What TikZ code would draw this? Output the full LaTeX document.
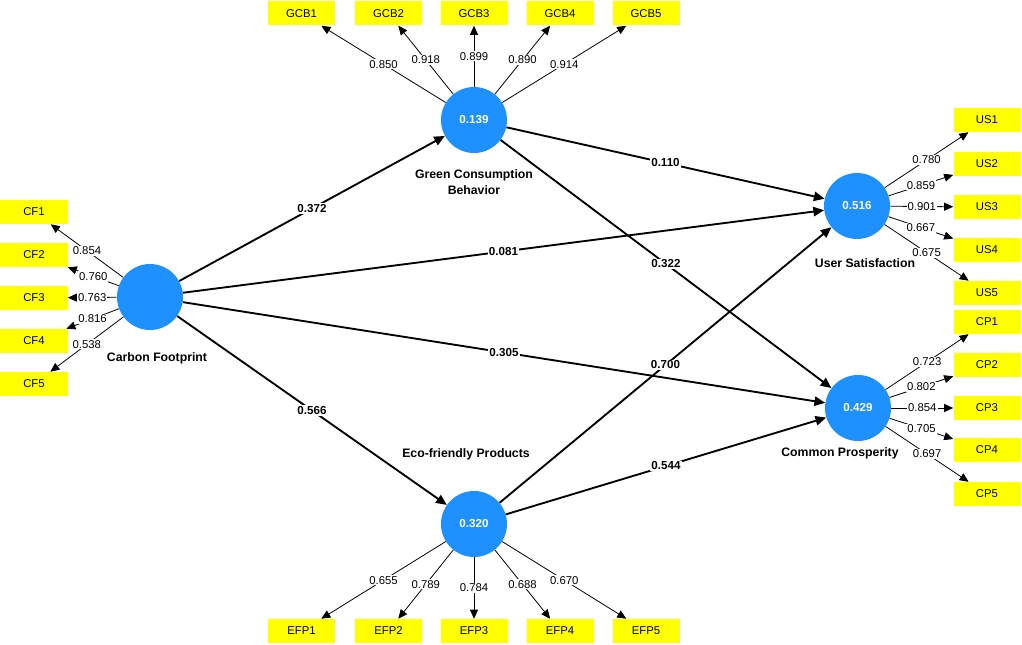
\documentclass[tikz,border=0pt]{standalone}
\usepackage{fontspec}
\setmainfont{Liberation Sans}
\usetikzlibrary{arrows.meta}
\definecolor{lvblue}{RGB}{30,144,255}
\definecolor{indy}{RGB}{255,255,0}
\begin{document}
\begin{tikzpicture}[x=0.75pt,y=-0.75pt,
  lv/.style={circle,fill=lvblue,minimum size=49.5pt,inner sep=0pt,text=white,font=\bfseries\fontsize{8.7}{10}\selectfont},
  mv/.style={rectangle,fill=indy,minimum width=50.25pt,minimum height=18pt,inner sep=0pt,font=\fontsize{8.5}{10}\selectfont},
  ld/.style={-{Triangle[length=6.8pt,width=6pt]},line width=0.6pt},
  ldl/.style={fill=white,inner sep=0.8pt,font=\fontsize{8.5}{10}\selectfont},
  pth/.style={-{Triangle[length=8pt,width=7pt]},line width=1.4pt},
  pl/.style={fill=white,inner sep=0.8pt,font=\bfseries\fontsize{8.7}{10}\selectfont},
  lvname/.style={font=\bfseries\fontsize{9.2}{11.5}\selectfont,align=center}]
\fill[white] (0,0) rectangle (1022,645);
\useasboundingbox (0,0) rectangle (1022,645);
% latent variables
\node[lv] (cf) at (150,297) {};
\node[lv] (gcb) at (474,120) {0.139};
\node[lv] (us) at (857,206) {0.516};
\node[lv] (cp) at (858,408) {0.429};
\node[lv] (efp) at (474,524) {0.320};
\node[lvname] (cfn) at (157,358) {Carbon Footprint};
\node[lvname] (gcbn) at (474,182) {Green Consumption\\Behavior};
\node[lvname] (usn) at (865,263) {User Satisfaction};
\node[lvname] (cpn) at (840,453) {Common Prosperity};
\node[lvname] (efpn) at (466,454) {Eco-friendly Products};
% indicators
\node[mv] (cf1) at (34,212) {CF1};
\node[mv] (cf2) at (34,255) {CF2};
\node[mv] (cf3) at (34,298) {CF3};
\node[mv] (cf4) at (34,341) {CF4};
\node[mv] (cf5) at (34,384) {CF5};
\node[mv] (gcb1) at (301.5,13.5) {GCB1};
\node[mv] (gcb2) at (388.5,13.5) {GCB2};
\node[mv] (gcb3) at (474,13.5) {GCB3};
\node[mv] (gcb4) at (560,13.5) {GCB4};
\node[mv] (gcb5) at (646,13.5) {GCB5};
\node[mv] (us1) at (987,120) {US1};
\node[mv] (us2) at (987,164) {US2};
\node[mv] (us3) at (987,207) {US3};
\node[mv] (us4) at (987,250) {US4};
\node[mv] (us5) at (987,293) {US5};
\node[mv] (cp1) at (987,322) {CP1};
\node[mv] (cp2) at (987,365) {CP2};
\node[mv] (cp3) at (987,408) {CP3};
\node[mv] (cp4) at (987,450) {CP4};
\node[mv] (cp5) at (987,494) {CP5};
\node[mv] (efp1) at (301.5,631) {EFP1};
\node[mv] (efp2) at (388.5,631) {EFP2};
\node[mv] (efp3) at (474,631) {EFP3};
\node[mv] (efp4) at (560,631) {EFP4};
\node[mv] (efp5) at (646,631) {EFP5};
% loadings
\draw[ld] (cf) -- node[ldl] {0.854} (cf1);
\draw[ld] (cf) -- node[ldl] {0.760} (cf2);
\draw[ld] (cf) -- node[ldl] {0.763} (cf3);
\draw[ld] (cf) -- node[ldl] {0.816} (cf4);
\draw[ld] (cf) -- node[ldl] {0.538} (cf5);
\draw[ld] (gcb) -- node[ldl] {0.850} (gcb1);
\draw[ld] (gcb) -- node[ldl] {0.918} (gcb2);
\draw[ld] (gcb) -- node[ldl] {0.899} (gcb3);
\draw[ld] (gcb) -- node[ldl] {0.890} (gcb4);
\draw[ld] (gcb) -- node[ldl] {0.914} (gcb5);
\draw[ld] (us) -- node[ldl] {0.780} (us1);
\draw[ld] (us) -- node[ldl] {0.859} (us2);
\draw[ld] (us) -- node[ldl] {0.901} (us3);
\draw[ld] (us) -- node[ldl] {0.667} (us4);
\draw[ld] (us) -- node[ldl] {0.675} (us5);
\draw[ld] (cp) -- node[ldl] {0.723} (cp1);
\draw[ld] (cp) -- node[ldl] {0.802} (cp2);
\draw[ld] (cp) -- node[ldl] {0.854} (cp3);
\draw[ld] (cp) -- node[ldl] {0.705} (cp4);
\draw[ld] (cp) -- node[ldl] {0.697} (cp5);
\draw[ld] (efp) -- node[ldl] {0.655} (efp1);
\draw[ld] (efp) -- node[ldl] {0.789} (efp2);
\draw[ld] (efp) -- node[ldl] {0.784} (efp3);
\draw[ld] (efp) -- node[ldl] {0.688} (efp4);
\draw[ld] (efp) -- node[ldl] {0.670} (efp5);
% structural paths
\draw[pth] (cf) -- node[pl,pos=0.5] {0.372} (gcb);
\draw[pth] (cf) -- node[pl,pos=0.5] {0.081} (us);
\draw[pth] (cf) -- node[pl,pos=0.5] {0.305} (cp);
\draw[pth] (cf) -- node[pl,pos=0.5] {0.566} (efp);
\draw[pth] (gcb) -- node[pl,pos=0.5] {0.110} (us);
\draw[pth] (gcb) -- node[pl,pos=0.5] {0.322} (cp);
\draw[pth] (efp) -- node[pl,pos=0.5] {0.700} (us);
\draw[pth] (efp) -- node[pl,pos=0.5] {0.544} (cp);
\end{tikzpicture}
\end{document}
